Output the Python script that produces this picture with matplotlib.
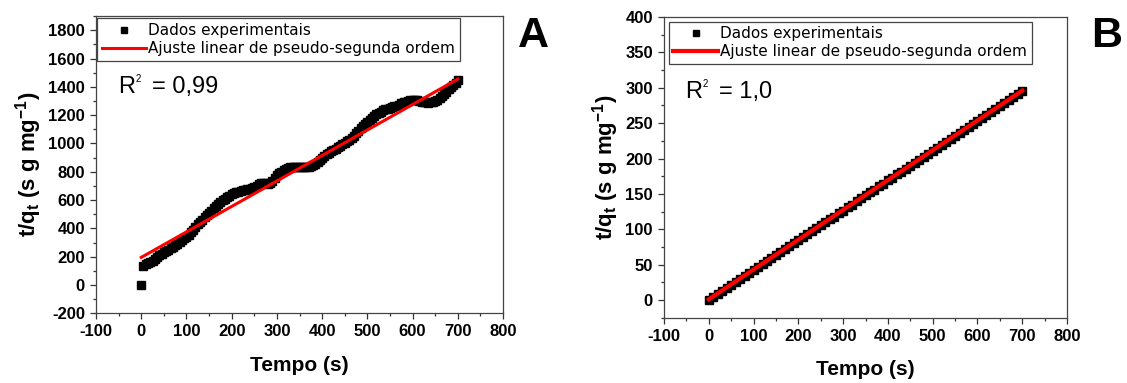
import matplotlib
matplotlib.use("Agg")
import matplotlib.pyplot as plt
from matplotlib.ticker import MultipleLocator

# ── Dados: painel A ──
tempo_A = list(range(0, 701, 5))
tq_A = [0, 132, 145, 153, 162, 173, 185, 198, 210, 221, 232, 241, 250, 260,
        270, 281, 292, 305, 318, 330, 342, 356, 372, 390, 410, 428, 445, 462,
        478, 494, 510, 526, 542, 556, 570, 584, 598, 611, 622, 632, 640, 648,
        655, 660, 665, 669, 672, 676, 680, 684, 690, 700, 712, 720, 722, 718,
        715, 722, 735, 755, 775, 789, 800, 811, 820, 827, 832, 834, 835, 836,
        835, 833, 832, 833, 835, 839, 845, 856, 870, 882, 895, 910, 925, 936,
        945, 953, 962, 973, 985, 995, 1005, 1015, 1025, 1039, 1055, 1072, 1090,
        1108, 1125, 1141, 1155, 1168, 1180, 1193, 1205, 1215, 1225, 1233, 1240,
        1246, 1252, 1257, 1262, 1268, 1275, 1283, 1290, 1296, 1302, 1306, 1308,
        1307, 1305, 1300, 1295, 1292, 1290, 1289, 1290, 1293, 1298, 1308, 1320,
        1334, 1350, 1367, 1385, 1400, 1415, 1430, 1445]
ajuste_t_A = [0, 700]
ajuste_tq_A = [195, 1455]

# ── Dados: painel B ──
tempo_B = list(range(0, 701, 10))
tq_B = [0, 4.5, 8.5, 13, 17, 21, 25.5, 29.5, 34, 38, 42.5, 46.5, 51, 55, 59,
        63.5, 67.5, 72, 76, 80.5, 84.5, 88.5, 93, 97, 101.5, 105.5, 110, 114,
        118, 122.5, 126.5, 131, 135, 139.5, 143.5, 148, 152, 156, 160.5, 164.5,
        169, 173, 177.5, 181.5, 185.5, 190, 194, 198.5, 202.5, 207, 211, 215.5,
        219.5, 223.5, 228, 232, 236.5, 240.5, 245, 249, 253, 257.5, 261.5, 266,
        270, 274.5, 278.5, 283, 287, 291, 295]
ajuste_t_B = [0, 700]
ajuste_tq_B = [1, 296]

plt.rcParams["font.family"] = ["Liberation Sans", "DejaVu Sans"]
plt.rcParams["mathtext.fontset"] = "custom"
plt.rcParams["mathtext.rm"] = "Liberation Sans"
plt.rcParams["mathtext.it"] = "Liberation Sans:italic"
plt.rcParams["mathtext.bf"] = "Liberation Sans:bold"
plt.rcParams["axes.unicode_minus"] = False

fig = plt.figure(figsize=(11.27, 3.83), dpi=100)
fig.patch.set_facecolor("white")

axA = fig.add_axes([0.0852, 0.182, 0.3611, 0.776])
axB = fig.add_axes([0.5892, 0.1705, 0.3576, 0.785])


def estilo(ax, ymin, ymax, ymaj, ymin_step):
    ax.set_xlim(-100, 800)
    ax.set_ylim(ymin, ymax)
    ax.xaxis.set_major_locator(MultipleLocator(100))
    ax.xaxis.set_minor_locator(MultipleLocator(50))
    ax.yaxis.set_major_locator(MultipleLocator(ymaj))
    ax.yaxis.set_minor_locator(MultipleLocator(ymin_step))
    ax.tick_params(which="both", direction="out", top=False, right=False,
                   width=0.9, color="#333333")
    ax.tick_params(which="major", length=4, pad=4, labelsize=12)
    ax.tick_params(which="minor", length=2.2)
    for lbl in ax.get_xticklabels() + ax.get_yticklabels():
        lbl.set_fontweight("bold")
    for sp in ax.spines.values():
        sp.set_edgecolor("#444444")
        sp.set_linewidth(0.9)
    ax.set_xlabel("Tempo (s)", fontsize=15, fontweight="bold", labelpad=12)
    ax.set_ylabel(r"t/q$_\mathregular{t}$ (s g mg$^\mathregular{-1}$)",
                  fontsize=16, fontweight="bold", labelpad=3)


def texto_r2(ax, x, y, valor):
    # R com o "2" pequeno sobrescrito, como no original
    r = ax.text(x, y, "R", transform=ax.transAxes, fontsize=17,
                ha="left", va="bottom")
    ax.annotate("2", xy=(1, 1), xycoords=r, xytext=(0.5, 1.5),
                textcoords="offset points", fontsize=7, ha="left", va="top")
    ax.annotate("= " + valor, xy=(1, 0), xycoords=r, xytext=(12.5, 0),
                textcoords="offset points", fontsize=17, ha="left",
                va="bottom")


# ── Painel A ──
axA.plot(tempo_A, tq_A, "s", color="black", ms=5.2, ls="none",
         label="Dados experimentais", zorder=2)
axA.plot(ajuste_t_A, ajuste_tq_A, color="#ff0000", lw=2.2,
         label="Ajuste linear de pseudo-segunda ordem", zorder=3)
estilo(axA, -200, 1900, 200, 100)
texto_r2(axA, 0.054, 0.723, "0,99")

# ── Painel B ──
axB.plot(tempo_B, tq_B, "s", color="black", ms=5.4, ls="none",
         label="Dados experimentais", zorder=2)
axB.plot(ajuste_t_B, ajuste_tq_B, color="#ff0000", lw=3,
         label="Ajuste linear de pseudo-segunda ordem", zorder=3)
estilo(axB, -25, 400, 50, 25)
texto_r2(axB, 0.052, 0.713, "1,0")

for ax, anc in [(axA, (0.003, 0.992)), (axB, (0.012, 0.984))]:
    leg = ax.legend(loc="upper left", bbox_to_anchor=anc, borderaxespad=0,
                    numpoints=1, fancybox=False, frameon=True,
                    edgecolor="#444444", framealpha=1,
                    prop={"family": "DejaVu Sans", "size": 11},
                    handlelength=2.9, handletextpad=0.15, labelspacing=0.2,
                    borderpad=0.3, markerscale=0.8)
    leg.get_frame().set_linewidth(0.9)

fig.text(533 / 1127, 1 - 47 / 383, "A", fontsize=31, fontweight="bold",
         ha="center", va="baseline")
fig.text(1107 / 1127, 1 - 47 / 383, "B", fontsize=31, fontweight="bold",
         ha="center", va="baseline")

fig.savefig("out.png", dpi=100, facecolor="white")
